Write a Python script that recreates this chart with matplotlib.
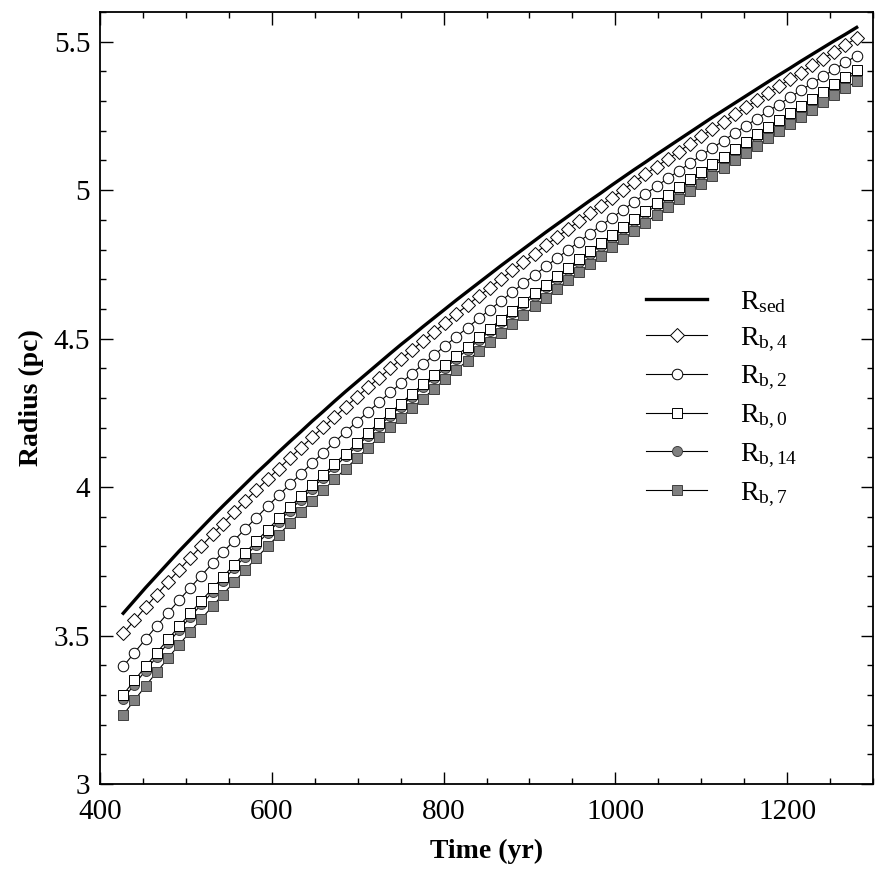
import matplotlib
matplotlib.use('Agg')
import matplotlib.pyplot as plt
from matplotlib.ticker import MultipleLocator, FormatStrFormatter

# set default fonts
plt.rcParams.update({'font.family': 'serif'})
plt.rcParams.update({'font.serif': ['Liberation Serif', 'DejaVu Serif']})
plt.rcParams.update({'mathtext.fontset': 'custom'})
plt.rcParams.update({'mathtext.rm': 'Liberation Serif'})
plt.rcParams.update({'mathtext.it': 'Liberation Serif:italic'})

#%% data

time = [427, 440, 453, 466, 479, 492, 505, 518, 531, 543, 556, 569, 582, 595,
        608, 621, 634, 647, 660, 673, 686, 699, 712, 725, 738, 750, 763, 776,
        789, 802, 815, 828, 841, 854, 867, 880, 893, 906, 919, 932, 945, 958,
        970, 983, 996, 1009, 1022, 1035, 1048, 1061, 1074, 1087, 1100, 1113,
        1126, 1139, 1152, 1165, 1178, 1190, 1203, 1216, 1229, 1242, 1255,
        1268, 1281]

r_sed = [3.575, 3.618, 3.661, 3.702, 3.743, 3.784, 3.823, 3.862, 3.901, 3.936,
         3.973, 4.010, 4.047, 4.082, 4.118, 4.153, 4.187, 4.222, 4.255, 4.289,
         4.322, 4.354, 4.386, 4.418, 4.450, 4.479, 4.509, 4.540, 4.570, 4.600,
         4.630, 4.659, 4.688, 4.717, 4.746, 4.774, 4.802, 4.830, 4.858, 4.885,
         4.912, 4.939, 4.964, 4.990, 5.017, 5.043, 5.069, 5.094, 5.120, 5.145,
         5.170, 5.195, 5.220, 5.245, 5.269, 5.293, 5.317, 5.341, 5.365, 5.387,
         5.410, 5.434, 5.457, 5.480, 5.503, 5.525, 5.548]

r_b4 = [3.507, 3.551, 3.595, 3.638, 3.680, 3.721, 3.762, 3.801, 3.841, 3.877,
        3.915, 3.953, 3.990, 4.026, 4.062, 4.098, 4.133, 4.168, 4.202, 4.236,
        4.270, 4.303, 4.336, 4.368, 4.400, 4.430, 4.461, 4.492, 4.523, 4.553,
        4.583, 4.613, 4.643, 4.672, 4.701, 4.730, 4.758, 4.786, 4.814, 4.842,
        4.869, 4.897, 4.922, 4.948, 4.975, 5.001, 5.028, 5.054, 5.079, 5.105,
        5.130, 5.156, 5.181, 5.206, 5.230, 5.255, 5.279, 5.303, 5.327, 5.349,
        5.373, 5.396, 5.420, 5.443, 5.466, 5.489, 5.512]

r_b2 = [3.396, 3.442, 3.488, 3.532, 3.576, 3.619, 3.661, 3.702, 3.743, 3.780,
        3.820, 3.859, 3.897, 3.935, 3.972, 4.009, 4.045, 4.081, 4.116, 4.151,
        4.186, 4.220, 4.253, 4.286, 4.319, 4.349, 4.382, 4.413, 4.445, 4.476,
        4.507, 4.537, 4.568, 4.598, 4.627, 4.657, 4.686, 4.714, 4.743, 4.771,
        4.799, 4.827, 4.853, 4.880, 4.907, 4.934, 4.961, 4.987, 5.013, 5.040,
        5.065, 5.091, 5.117, 5.142, 5.167, 5.192, 5.217, 5.241, 5.266, 5.288,
        5.312, 5.336, 5.360, 5.383, 5.407, 5.430, 5.453]

r_b0 = [3.301, 3.349, 3.396, 3.442, 3.487, 3.531, 3.575, 3.617, 3.659, 3.697,
        3.738, 3.778, 3.818, 3.856, 3.895, 3.932, 3.970, 4.006, 4.042, 4.078,
        4.113, 4.148, 4.183, 4.217, 4.250, 4.281, 4.314, 4.346, 4.378, 4.410,
        4.442, 4.473, 4.504, 4.534, 4.564, 4.594, 4.624, 4.653, 4.682, 4.711,
        4.739, 4.768, 4.794, 4.821, 4.849, 4.876, 4.903, 4.930, 4.957, 4.984,
        5.010, 5.036, 5.062, 5.087, 5.113, 5.138, 5.163, 5.188, 5.213, 5.235,
        5.260, 5.284, 5.308, 5.332, 5.356, 5.380, 5.403]

r_b14 = [3.287, 3.335, 3.382, 3.428, 3.474, 3.518, 3.562, 3.605, 3.647, 3.685,
         3.726, 3.766, 3.806, 3.845, 3.883, 3.921, 3.958, 3.995, 4.032, 4.067,
         4.103, 4.138, 4.172, 4.206, 4.240, 4.271, 4.304, 4.336, 4.369, 4.400,
         4.432, 4.463, 4.494, 4.525, 4.555, 4.585, 4.615, 4.644, 4.673, 4.702,
         4.731, 4.759, 4.785, 4.813, 4.840, 4.868, 4.895, 4.922, 4.949, 4.975,
         5.002, 5.028, 5.054, 5.079, 5.105, 5.130, 5.155, 5.180, 5.205, 5.228,
         5.252, 5.277, 5.301, 5.325, 5.348, 5.372, 5.396]

r_b7 = [3.233, 3.282, 3.330, 3.377, 3.423, 3.469, 3.513, 3.556, 3.599, 3.638,
        3.680, 3.721, 3.761, 3.800, 3.839, 3.878, 3.916, 3.953, 3.990, 4.026,
        4.062, 4.097, 4.132, 4.167, 4.201, 4.232, 4.265, 4.298, 4.331, 4.363,
        4.395, 4.426, 4.458, 4.488, 4.519, 4.549, 4.579, 4.609, 4.638, 4.668,
        4.697, 4.725, 4.751, 4.779, 4.807, 4.835, 4.862, 4.890, 4.917, 4.943,
        4.970, 4.996, 5.022, 5.048, 5.074, 5.100, 5.125, 5.150, 5.175, 5.198,
        5.223, 5.247, 5.271, 5.296, 5.320, 5.343, 5.367]

labels = ['R$_{\\mathrm{sed}}$', 'R$_{\\mathrm{b,4}}$', 'R$_{\\mathrm{b,2}}$',
          'R$_{\\mathrm{b,0}}$', 'R$_{\\mathrm{b,14}}$', 'R$_{\\mathrm{b,7}}$']

#%% plot

fig = plt.figure(figsize=(8.86, 8.86), dpi=100)
ax = fig.add_axes([0.1129, 0.1151, 0.8724, 0.8714])

gray = '#808080'
ax.plot(time, r_sed, color='k', lw=2.4, label=labels[0])
ax.plot(time, r_b4, color='k', lw=0.8, marker='D', ms=7.6, mfc='w', mec='k',
        mew=0.7, label=labels[1])
ax.plot(time, r_b2, color='k', lw=0.8, marker='o', ms=7.6, mfc='w', mec='k',
        mew=0.7, label=labels[2])
ax.plot(time, r_b14, color='k', lw=0.8, marker='o', ms=7.2, mfc=gray, mec='#404040',
        mew=0.7, label=labels[4])
ax.plot(time, r_b0, color='k', lw=0.8, marker='s', ms=7.4, mfc='w', mec='k',
        mew=0.7, label=labels[3])
ax.plot(time, r_b7, color='k', lw=0.8, marker='s', ms=7.4, mfc=gray, mec='#404040',
        mew=0.7, label=labels[5])

ax.set_xlim(400, 1300)
ax.set_ylim(3, 5.6)
ax.xaxis.set_major_locator(MultipleLocator(200))
ax.xaxis.set_minor_locator(MultipleLocator(50))
ax.yaxis.set_major_locator(MultipleLocator(0.5))
ax.yaxis.set_minor_locator(MultipleLocator(0.1))
ax.yaxis.set_major_formatter(FormatStrFormatter('%g'))
ax.tick_params(which='both', direction='in', top=True, right=True,
               labelsize=21, width=1.0)
ax.tick_params(which='major', length=9)
ax.tick_params(which='minor', length=4)
ax.tick_params(axis='x', which='major', pad=11)
ax.tick_params(axis='y', which='major', pad=7)
for sp in ax.spines.values():
    sp.set_linewidth(1.3)

ax.set_xlabel('Time (yr)', fontsize=20, fontweight='bold', labelpad=10)
ax.set_ylabel('Radius (pc)', fontsize=20, fontweight='bold', labelpad=7)

h, l = ax.get_legend_handles_labels()
order = [0, 1, 2, 4, 3, 5]
ax.legend([h[i] for i in order], [l[i] for i in order], loc='center left',
          bbox_to_anchor=(0.692, 0.499), frameon=False, fontsize=20,
          handlelength=2.2, handletextpad=1.2, labelspacing=0.38,
          borderaxespad=0)

plt.savefig('out.png', dpi=100)
